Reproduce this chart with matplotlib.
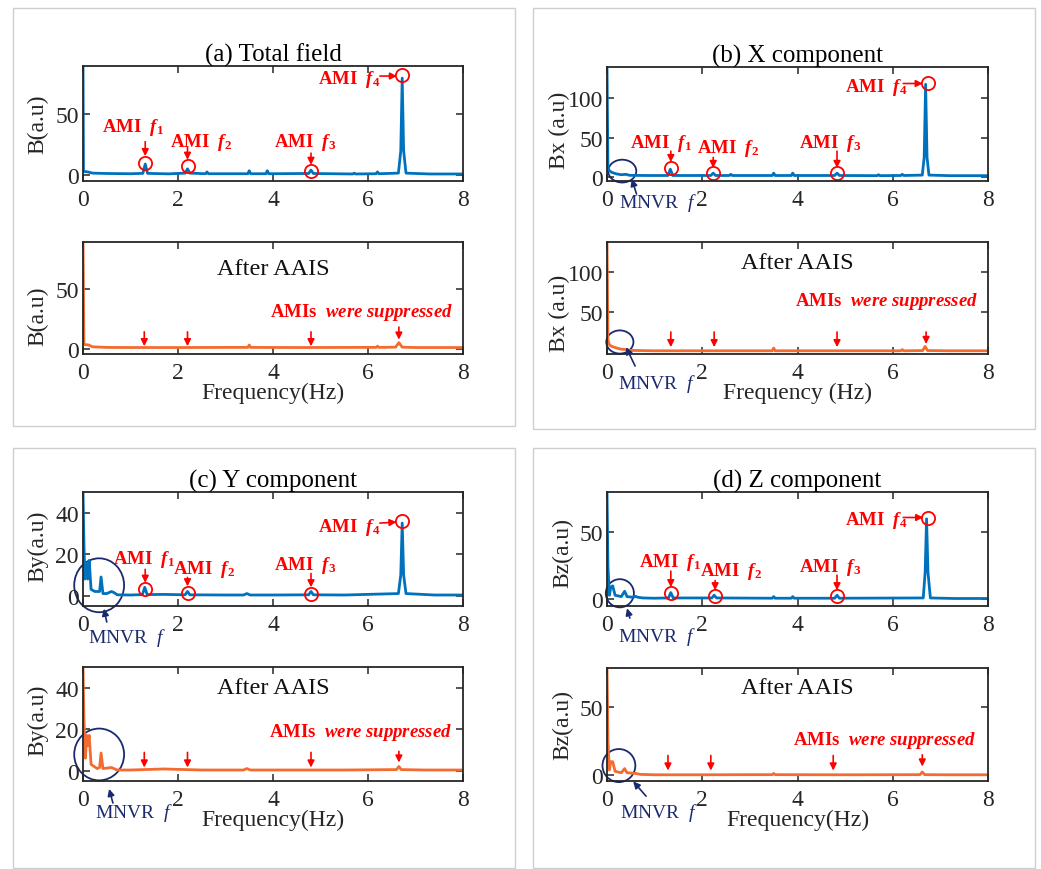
import matplotlib.pyplot as plt
from matplotlib.patches import Ellipse, Rectangle

# spectra (frequency in Hz, amplitude in a.u.)
a_top_f = [0, 0.01, 0.1, 0.2, 0.5, 1.0, 1.26, 1.31, 1.36, 1.8, 2.15, 2.2, 2.25, 2.58, 2.61, 2.64,
           3.47, 3.5, 3.53, 3.85, 3.88, 3.91, 4.75, 4.8, 4.85, 5.68, 5.71, 5.74, 6.17, 6.2, 6.23,
           6.64, 6.69, 6.72, 6.75, 6.8, 7.3, 8]
a_top_v = [90, 3, 2.5, 1.5, 1.2, 1.0, 1.3, 9, 1.3, 0.9, 1.5, 5, 1.5, 1.0, 2.5, 1.0,
           1.0, 3.5, 1.0, 1.0, 3.5, 1.0, 1.2, 4, 1.2, 0.8, 1.5, 0.8, 1.0, 2.5, 1.0,
           1.5, 20, 80, 20, 1.5, 0.8, 0.8]
a_bot_f = [0, 0.02, 0.12, 0.2, 0.5, 1.0, 2.0, 3.0, 3.47, 3.5, 3.53, 4.5, 5.7, 6.17, 6.2, 6.23,
           6.58, 6.65, 6.72, 7.0, 8]
a_bot_v = [90, 3.5, 3, 1.5, 1.0, 0.9, 0.9, 1.0, 1.0, 3, 1.0, 0.9, 1.0, 1.0, 2, 1.0,
           1.2, 5, 1.2, 0.9, 0.9]

b_top_f = [0, 0.02, 0.05, 0.1, 0.2, 0.3, 0.4, 0.45, 0.5, 0.8, 1.28, 1.33, 1.38, 2.18, 2.23, 2.28,
           2.57, 2.6, 2.63, 3.47, 3.5, 3.53, 3.87, 3.9, 3.93, 4.78, 4.83, 4.88, 5.67, 5.7, 5.73,
           6.17, 6.2, 6.23, 6.62, 6.66, 6.69, 6.72, 6.76, 7.2, 8]
b_top_v = [140, 12, 8, 6, 4, 3, 3.5, 2.5, 2.2, 2, 2, 10, 2, 2, 5, 2,
           2, 3.5, 2, 2, 5, 2, 2, 5, 2, 2, 5, 2, 1.8, 3, 1.8,
           2, 3.5, 2, 2.5, 25, 118, 25, 2.5, 1.8, 1.8]
b_bot_f = [0, 0.02, 0.05, 0.1, 0.2, 0.3, 0.4, 0.5, 1.0, 2.0, 3.47, 3.5, 3.53, 5.0, 6.17, 6.2, 6.23,
           6.63, 6.68, 6.73, 7.2, 8]
b_bot_v = [140, 15, 9, 7, 5, 3.5, 3, 2, 1.5, 1.5, 1.5, 5, 1.5, 1.5, 1.5, 3, 1.5,
           1.8, 7, 1.8, 1.5, 1.5]

c_top_f = [0, 0.02, 0.04, 0.06, 0.08, 0.1, 0.13, 0.17, 0.25, 0.35, 0.38, 0.42, 0.5, 0.6, 0.65, 0.72,
           1.0, 1.25, 1.3, 1.35, 1.7, 2.15, 2.2, 2.25, 3.0, 3.38, 3.45, 3.52, 4.0, 4.75, 4.8, 4.85,
           5.5, 6.64, 6.69, 6.72, 6.75, 6.8, 7.4, 8]
c_top_v = [50, 25, 8, 16, 10, 8, 17, 3, 2, 2, 9, 1, 1, 2, 1.5, 0.4,
           0.3, 0.5, 4, 0.5, 0.6, 0.4, 2, 0.4, 0.3, 0.3, 1, 0.3, 0.3, 0.4, 2, 0.4,
           0.3, 1, 10, 35, 10, 1, 0.3, 0.3]
c_bot_f = [0, 0.02, 0.05, 0.08, 0.1, 0.13, 0.17, 0.3, 0.35, 0.38, 0.42, 0.6, 0.65, 0.72, 1.0, 1.7,
           2.5, 3.38, 3.45, 3.52, 4.0, 5.5, 6.6, 6.65, 6.7, 7.2, 8]
c_bot_v = [50, 25, 6, 17, 12, 17, 3, 1, 1.5, 8.5, 1, 1.5, 1, 0.3, 0.3, 0.8,
           0.3, 0.3, 1, 0.3, 0.3, 0.3, 0.5, 2, 0.5, 0.3, 0.3]

d_top_f = [0, 0.02, 0.05, 0.08, 0.12, 0.17, 0.3, 0.37, 0.42, 0.55, 0.6, 0.65, 0.75, 1.0, 1.29, 1.34,
           1.39, 2.2, 2.25, 2.3, 3.47, 3.5, 3.53, 3.87, 3.9, 3.93, 4.78, 4.83, 4.88, 6.64, 6.68,
           6.71, 6.74, 6.79, 7.3, 8]
d_top_v = [80, 25, 3, 9, 10, 3, 2, 6, 2, 1.5, 2.2, 1.5, 1, 0.8, 1, 5,
           1, 1, 3, 1, 0.8, 2, 0.8, 0.8, 2, 0.8, 0.8, 3, 0.8, 1, 20,
           60, 20, 1, 0.6, 0.6]
d_bot_f = [0, 0.02, 0.05, 0.08, 0.12, 0.17, 0.3, 0.37, 0.42, 0.6, 0.7, 1.0, 2.0, 3.0, 3.47, 3.5,
           3.53, 5.0, 6.57, 6.62, 6.67, 7.2, 8]
d_bot_v = [80, 25, 4, 10, 10, 3, 2, 5, 2, 1.5, 0.8, 0.5, 0.5, 0.6, 0.6, 1.5,
           0.6, 0.5, 0.6, 2.5, 0.6, 0.5, 0.5]

# AMI peaks marked with circles (freq, amplitude) per component
ami_a_f = [1.31, 2.2, 4.8, 6.72]
ami_a_v = [10, 7.5, 3.3, 82.5]
ami_b_f = [1.34, 2.23, 4.83, 6.75]
ami_b_v = [11, 5, 5, 120]
ami_c_f = [1.31, 2.2, 4.8, 6.72]
ami_c_v = [3, 1.5, 1, 36]
ami_d_f = [1.34, 2.27, 4.83, 6.75]
ami_d_v = [4.5, 2.2, 2.2, 60.5]

# frequencies of the suppressed AMIs in the "After AAIS" plots
sup_a_f = [1.29, 2.2, 4.8, 6.65]
sup_b_f = [1.34, 2.25, 4.83, 6.7]
sup_c_f = [1.29, 2.2, 4.8, 6.65]
sup_d_f = [1.28, 2.18, 4.75, 6.62]

W, H = 1041, 870
BLUE = '#0072BD'
ORANGE = '#F46B30'
RED = '#FF0000'
NAVY = '#1B2A6E'
INK = '#262626'

plt.rcParams['font.family'] = 'Liberation Serif'
plt.rcParams['mathtext.fontset'] = 'custom'
plt.rcParams['mathtext.it'] = 'Liberation Serif:italic:bold'
plt.rcParams['mathtext.rm'] = 'Liberation Serif:bold'
plt.rcParams['mathtext.sf'] = 'Liberation Serif:italic'

fig = plt.figure(figsize=(W / 100, H / 100), dpi=100)


def add_ax(l, t, r, b):
    return fig.add_axes([l / W, 1 - b / H, (r - l) / W, (b - t) / H])


def style(ax, ylim, yticks, ylabel, lab_x, lab_y):
    ax.set_xlim(0, 8)
    ax.set_ylim(*ylim)
    ax.set_xticks([0, 2, 4, 6, 8])
    ax.set_yticks(yticks)
    ax.tick_params(direction='in', top=True, right=True, length=5, width=1.1,
                   labelsize=17, colors=INK)
    ax.tick_params(axis='x', pad=6)
    ax.tick_params(axis='y', pad=3)
    for s in ax.spines.values():
        s.set_linewidth(1.3)
        s.set_color(INK)
    ax.set_ylabel(ylabel, fontsize=17, color=INK, va='center')
    ax.yaxis.set_label_coords(lab_x, lab_y)


def arrow(ax, x0, y0, x1, y1, color):
    ax.annotate('', xy=(x1, y1), xytext=(x0, y0), annotation_clip=False,
                arrowprops=dict(arrowstyle='-|>', color=color, lw=1.2,
                                mutation_scale=10, shrinkA=0, shrinkB=0))


def mark_ami(ax, cf, cv, labels):
    ax.plot(cf, cv, 'o', ms=9.5, mfc='none', mec=RED, mew=1.3, clip_on=False)
    for k, (tx, ty, x0, y0, x1, y1) in enumerate(labels):
        ax.text(tx, ty, r'AMI  $f_{\mathit{%d}}$' % (k + 1), color=RED,
                fontsize=13.5, fontweight='bold')
        arrow(ax, x0, y0, x1, y1, RED)


def mark_sup(ax, sf, y0, y1, tx, ty, ytext):
    for f, a, b in zip(sf, y0, y1):
        arrow(ax, f, a, f, b, RED)
    ax.text(tx, ty, r'AMIs  $\mathit{were\ suppressed}$', color=RED,
            fontsize=13.5, fontweight='bold')
    ax.text(0.5, ytext, 'After AAIS', transform=ax.transAxes, ha='center',
            va='center', fontsize=17.5, color='#111111')


def mark_mnvr(ax, cx, cy, w, h, tx, ty, x0, y0, x1, y1):
    ax.add_patch(Ellipse((cx, cy), w, h, fill=False, ec=NAVY, lw=1.3, clip_on=False))
    ax.text(tx, ty, r'MNVR  $\mathsf{f}$', color=NAVY, fontsize=14)
    arrow(ax, x0, y0, x1, y1, NAVY)


# panel frames
for l, t, r, b in [(13, 9, 515, 427), (533, 9, 1035, 430),
                   (13, 449, 515, 869), (533, 449, 1035, 869)]:
    fig.add_artist(Rectangle((l / W, 1 - b / H), (r - l) / W, (b - t) / H,
                             transform=fig.transFigure, fill=False,
                             ec='#cfcfcf', lw=1))

# (a) total field
ax = add_ax(83, 67, 463, 182)
ax.plot(a_top_f, a_top_v, color=BLUE, lw=2)
style(ax, (-5, 90), [0, 50], 'B(a.u)', -0.118, 0.5)
ax.set_title('(a) Total field', fontsize=18, pad=4)
mark_ami(ax, ami_a_f, ami_a_v, [
    (0.40, 36, 1.31, 27.5, 1.31, 15.5),
    (1.83, 24, 2.2, 22.5, 2.2, 12.5),
    (4.02, 24, 4.8, 18, 4.8, 8.3),
    (4.95, 76, 6.25, 81.7, 6.61, 81.7)])

ax = add_ax(83, 243, 463, 355)
ax.plot(a_bot_f, a_bot_v, color=ORANGE, lw=2)
style(ax, (-4.5, 89), [0, 50], 'B(a.u)', -0.118, 0.35)
ax.set_xlabel('Frequency(Hz)', fontsize=17, color=INK, labelpad=-1)
mark_sup(ax, sup_a_f, [14, 14, 14, 18], [2, 2, 2, 7.5], 3.94, 27.5, 0.76)

# (b) X component
ax = add_ax(607, 68, 988, 182)
ax.plot(b_top_f, b_top_v, color=BLUE, lw=2)
style(ax, (-5, 140), [0, 50, 100], 'Bx (a.u)', -0.126, 0.45)
ax.set_title('(b) X component', fontsize=18, pad=4)
mark_ami(ax, ami_b_f, ami_b_v, [
    (0.48, 38, 1.34, 33, 1.34, 19),
    (1.89, 32, 2.23, 25, 2.23, 11.5),
    (4.03, 38, 4.83, 33, 4.83, 11.5),
    (5.0, 110, 6.22, 119, 6.63, 119)])
mark_mnvr(ax, 0.32, 7.6, 0.59, 29, 0.25, -38, 0.62, -21.5, 0.52, -2.5)

ax = add_ax(607, 243, 988, 355)
ax.plot(b_bot_f, b_bot_v, color=ORANGE, lw=2)
style(ax, (-2.5, 137.5), [50, 100], 'Bx (a.u)', -0.126, 0.37)
ax.set_xlabel('Frequency (Hz)', fontsize=17, color=INK, labelpad=-1)
mark_sup(ax, sup_b_f, [25, 25, 25, 25], [6, 6, 6, 10], 3.95, 59, 0.82)
mark_mnvr(ax, 0.27, 12.5, 0.57, 29, 0.23, -45, 0.59, -17.5, 0.40, 6)

# (c) Y component
ax = add_ax(83, 493, 463, 607)
ax.plot(c_top_f, c_top_v, color=BLUE, lw=2)
style(ax, (-5, 50), [0, 20, 40], 'By(a.u)', -0.118, 0.53)
ax.set_title('(c) Y component', fontsize=18, pad=4)
mark_ami(ax, ami_c_f, ami_c_v, [
    (0.63, 15.6, 1.31, 12.7, 1.31, 6.2),
    (1.9, 10.7, 2.2, 8.8, 2.2, 4.5),
    (4.02, 13, 4.8, 10.7, 4.8, 4),
    (4.95, 31, 6.25, 35, 6.6, 35.5)])
mark_mnvr(ax, 0.34, 5, 1.05, 26, 0.1, -22.4, 0.5, -12.7, 0.44, -6.3)

ax = add_ax(83, 668, 463, 782)
ax.plot(c_bot_f, c_bot_v, color=ORANGE, lw=2)
style(ax, (-5, 50), [0, 20, 40], 'By(a.u)', -0.118, 0.54)
ax.set_xlabel('Frequency(Hz)', fontsize=17, color=INK, labelpad=-1)
mark_sup(ax, sup_c_f, [8.8, 8.8, 8.8, 9.3], [1.5, 1.5, 1.5, 3.9], 3.92, 16.6, 0.82)
mark_mnvr(ax, 0.34, 7.8, 1.05, 25, 0.25, -22.4, 0.63, -15.6, 0.55, -8.8)

# (d) Z component
ax = add_ax(607, 493, 988, 607)
ax.plot(d_top_f, d_top_v, color=BLUE, lw=2)
style(ax, (-5, 80), [0, 50], 'Bz(a.u)', -0.115, 0.47)
ax.set_title('(d) Z component', fontsize=18, pad=4)
mark_ami(ax, ami_d_f, ami_d_v, [
    (0.67, 25, 1.34, 21, 1.34, 9),
    (1.95, 18, 2.27, 14, 2.27, 6.7),
    (4.03, 21, 4.83, 18, 4.83, 6.7),
    (5.0, 56, 6.22, 61, 6.64, 61)])
mark_mnvr(ax, 0.27, 4.5, 0.59, 21, 0.23, -31, 0.48, -14, 0.42, -6.7)

ax = add_ax(607, 669, 988, 782)
ax.plot(d_bot_f, d_bot_v, color=ORANGE, lw=2)
style(ax, (-4, 78), [0, 50], 'Bz(a.u)', -0.115, 0.5)
ax.set_xlabel('Frequency(Hz)', fontsize=17, color=INK, labelpad=-1)
mark_sup(ax, sup_d_f, [14.5, 14.5, 14.5, 15], [3.6, 3.6, 3.6, 6.5], 3.9, 22.5, 0.83)
mark_mnvr(ax, 0.25, 7.2, 0.69, 24, 0.27, -30, 0.82, -15, 0.55, -4.3)

fig.savefig('out.png', dpi=100)
